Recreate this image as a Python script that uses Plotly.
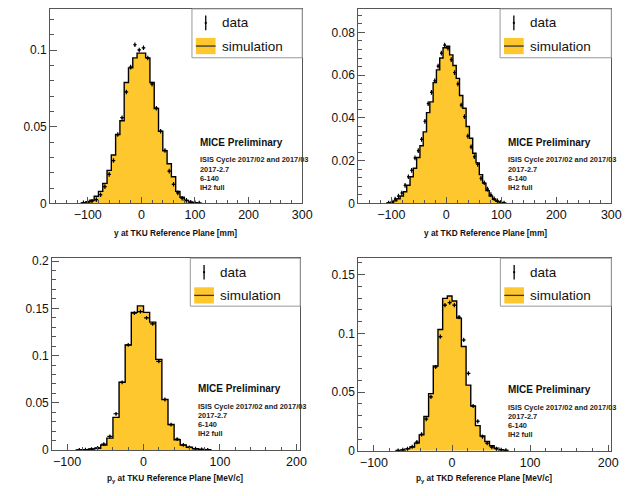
import plotly.graph_objects as go

W, H = 641, 496

# ---------------- data (normalised histograms) ----------------
# Panel 1: y at TKU reference plane [mm], bin width 8
P1_CENTERS = [-108, -100, -92, -84, -76, -68, -60, -52, -44, -36, -28, -20, -12, -4,
              4, 12, 20, 28, 36, 44, 52, 60, 68, 76, 84, 92, 100, 108]
P1_SIM = [0.0004, 0.0010, 0.0021, 0.0047, 0.0079, 0.0131, 0.0216, 0.0316, 0.0450, 0.0540,
          0.0790, 0.0885, 0.0950, 0.0981, 0.0981, 0.0950, 0.0790, 0.0620, 0.0471, 0.0344,
          0.0259, 0.0174, 0.0079, 0.0041, 0.0020, 0.0010, 0.0005, 0.0002]
P1_DATA = [0.0005, 0.0010, 0.0015, 0.0025, 0.0057, 0.0110, 0.0190, 0.0280, 0.0450, 0.0560,
           0.0728, 0.0890, 0.1036, 0.1002, 0.1016, 0.0949, 0.0779, 0.0622, 0.0471, 0.0346,
           0.0211, 0.0125, 0.0069, 0.0034, 0.0020, 0.0008, 0.0004, 0.0002]

# Panel 2: y at TKD reference plane [mm], bin width 6
P2_CENTERS = [-105, -99, -93, -87, -81, -75, -69, -63, -57, -51, -45, -39, -33, -27, -21, -15,
              -9, -3, 3, 9, 15, 21, 27, 33, 39, 45, 51, 57, 63, 69, 75, 81, 87, 93, 99, 105]
P2_SIM = [0.0002, 0.0005, 0.0012, 0.0022, 0.0035, 0.0055, 0.0085, 0.0125, 0.0165, 0.0215,
          0.0270, 0.0335, 0.0425, 0.0475, 0.0565, 0.0625, 0.0680, 0.0728, 0.0735, 0.0695,
          0.0645, 0.0585, 0.0505, 0.0445, 0.0360, 0.0305, 0.0235, 0.0190, 0.0135, 0.0095,
          0.0060, 0.0035, 0.0020, 0.0010, 0.0005, 0.0002]
P2_DATA = [0.0002, 0.0008, 0.0021, 0.0034, 0.0049, 0.0085, 0.0125, 0.0155, 0.0213, 0.0247,
           0.0300, 0.0384, 0.0467, 0.0520, 0.0574, 0.0642, 0.0703, 0.0741, 0.0726, 0.0673,
           0.0612, 0.0559, 0.0460, 0.0406, 0.0315, 0.0265, 0.0219, 0.0183, 0.0117, 0.0097,
           0.0067, 0.0041, 0.0022, 0.0012, 0.0005, 0.0002]

# Panel 3: p_y at TKU reference plane [MeV/c], bin width 8
P3_CENTERS = [-84, -76, -68, -60, -52, -44, -36, -28, -20, -12, -4,
              4, 12, 20, 28, 36, 44, 52, 60, 68, 76, 84]
P3_SIM = [0.0003, 0.0006, 0.0012, 0.0021, 0.0055, 0.0127, 0.0347, 0.0718, 0.1113, 0.1457,
          0.1526, 0.1457, 0.1354, 0.0960, 0.0536, 0.0271, 0.0110, 0.0055, 0.0031, 0.0015,
          0.0008, 0.0004]
P3_DATA = [0.0003, 0.0005, 0.0012, 0.0025, 0.0064, 0.0145, 0.0385, 0.0718, 0.1113, 0.1450,
           0.1465, 0.1400, 0.1336, 0.0940, 0.0536, 0.0271, 0.0117, 0.0055, 0.0030, 0.0015,
           0.0008, 0.0004]

# Panel 4: p_y at TKD reference plane [MeV/c], bin width 6
P4_CENTERS = [-69, -63, -57, -51, -45, -39, -33, -27, -21, -15, -9, -3,
              3, 9, 15, 21, 27, 33, 39, 45, 51, 57, 63, 69]
P4_SIM = [0.0003, 0.0007, 0.0019, 0.0033, 0.0066, 0.0136, 0.0293, 0.0487, 0.0723, 0.1033,
          0.1298, 0.1318, 0.1276, 0.1130, 0.0889, 0.0560, 0.0382, 0.0215, 0.0127, 0.0080,
          0.0044, 0.0022, 0.0010, 0.0004]
P4_DATA = [0.0003, 0.0008, 0.0017, 0.0035, 0.0075, 0.0141, 0.0271, 0.0460, 0.0714, 0.0972,
           0.1240, 0.1262, 0.1240, 0.1138, 0.0944, 0.0659, 0.0382, 0.0252, 0.0122, 0.0065,
           0.0032, 0.0017, 0.0008, 0.0004]

X_TITLES = ["y at TKU Reference Plane [mm]",
            "y at TKD Reference Plane [mm]",
            "p<sub>y</sub> at TKU Reference Plane [MeV/c]",
            "p<sub>y</sub> at TKD Reference Plane [MeV/c]"]
INFO_LINES = ["ISIS Cycle 2017/02 and 2017/03", "2017-2.7", "6-140", "IH2 full"]
LEGEND_LABELS = ["data", "simulation"]

# ---------------- style / layout ----------------
YELLOW = "#FFC72E"
FONT = "Liberation Sans, Arial, Helvetica, sans-serif"
AXC = "#555555"


def fx(x):
    return x / W


def fy(y):
    return 1 - y / H


panels = [
    dict(c=P1_CENTERS, sim=P1_SIM, data=P1_DATA, bw=8, err=0.0015,
         box=(51, 5, 307, 204), xr=[-170, 300], yr=[0, 0.127], ydt=0.05, ymin=0.01,
         title=X_TITLES[0], tpos=(178, 234.5), leg=(195, 5, 307, 55), txt=(201, 141.7)),
    dict(c=P2_CENTERS, sim=P2_SIM, data=P2_DATA, bw=6, err=0.0011,
         box=(364, 5, 621, 204), xr=[-160, 300], yr=[0, 0.091], ydt=0.02, ymin=0.004,
         title=X_TITLES[1], tpos=(493, 234.5), leg=(508, 5, 621, 55), txt=(514.3, 141.7)),
    dict(c=P3_CENTERS, sim=P3_SIM, data=P3_DATA, bw=8, err=0.002,
         box=(53, 260, 305, 456.3), xr=[-119.5, 205], yr=[0, 0.203], ydt=0.05, ymin=0.01,
         title=X_TITLES[2], tpos=(178, 485.5), leg=(193.3, 260, 305, 309), txt=(199.3, 393.7)),
    dict(c=P4_CENTERS, sim=P4_SIM, data=P4_DATA, bw=6, err=0.0018,
         box=(364, 260, 621, 457), xr=[-120, 204], yr=[0, 0.164], ydt=0.05, ymin=0.01,
         title=X_TITLES[3], tpos=(492, 485.5), leg=(508.3, 260, 621, 309), txt=(514.3, 394.7)),
]

fig = go.Figure()
layout = dict(width=W, height=H, margin=dict(l=0, r=0, t=0, b=0),
              paper_bgcolor="white", plot_bgcolor="white", showlegend=False,
              font=dict(family=FONT, color="#111111"))
shapes = []
annotations = []

for i, p in enumerate(panels, start=1):
    xa, ya = f"x{i}", f"y{i}"
    bw = p["bw"]
    edges = [c - bw / 2 for c in p["c"]] + [p["c"][-1] + bw / 2]
    xs = [edges[0]] + edges[:-1] + [edges[-1]]
    ys = [0] + list(p["sim"]) + [0]
    fig.add_trace(go.Scatter(x=xs, y=ys, mode="lines", xaxis=xa, yaxis=ya,
                             line=dict(shape="hv", color="black", width=1.4),
                             fill="tozeroy", fillcolor=YELLOW, hoverinfo="skip"))
    fig.add_trace(go.Scatter(x=p["c"], y=p["data"], mode="markers", xaxis=xa, yaxis=ya,
                             marker=dict(size=2, color="black"),
                             error_x=dict(type="constant", value=bw / 2 * 0.85, width=0,
                                          thickness=1.2, color="black"),
                             error_y=dict(type="constant", value=p["err"], width=0,
                                          thickness=1.2, color="black")))
    x0, y0, x1, y1 = p["box"]
    sfx = "" if i == 1 else str(i)
    layout["xaxis" + sfx] = dict(
        domain=[fx(x0), fx(x1)], range=p["xr"], anchor=ya, showgrid=False, zeroline=False,
        showline=True, linecolor=AXC, linewidth=1, mirror=True,
        ticks="inside", ticklen=6, tickwidth=1, tickcolor=AXC, tick0=0, dtick=100,
        minor=dict(ticks="inside", ticklen=3, dtick=20, tickcolor=AXC, showgrid=False),
        tickfont=dict(size=12.5, family=FONT, color="#111111"))
    layout["yaxis" + sfx] = dict(
        domain=[fy(y1), fy(y0)], range=p["yr"], anchor=xa, showgrid=False, zeroline=False,
        showline=True, linecolor=AXC, linewidth=1, mirror=True,
        ticks="inside", ticklen=7, tickwidth=1, tickcolor=AXC, tick0=0, dtick=p["ydt"],
        minor=dict(ticks="inside", ticklen=3.5, dtick=p["ymin"], tickcolor=AXC, showgrid=False),
        tickfont=dict(size=12, family=FONT, color="#111111"))

    # x axis title
    tx, ty = p["tpos"]
    annotations.append(dict(xref="paper", yref="paper", x=fx(tx), y=fy(ty), text="<b>%s</b>" % p["title"],
                            showarrow=False, xanchor="center", yanchor="middle",
                            font=dict(size=8.3, family=FONT, color="#111111")))
    # MICE text block
    mx, my = p["txt"]
    annotations.append(dict(xref="paper", yref="paper", x=fx(mx), y=fy(my), text="<b>MICE Preliminary</b>",
                            showarrow=False, xanchor="left", yanchor="middle",
                            font=dict(size=10, family=FONT, color="#111111")))
    for k, (line, dy) in enumerate(zip(INFO_LINES, [17.8, 27.4, 36.6, 45.8])):
        annotations.append(dict(xref="paper", yref="paper", x=fx(mx), y=fy(my + dy),
                                text="<b>%s</b>" % line, showarrow=False,
                                xanchor="left", yanchor="middle",
                                font=dict(size=7.4, family=FONT, color="#222222")))
    # legend box
    lx0, ly0, lx1, ly1 = p["leg"]
    shapes.append(dict(type="rect", xref="paper", yref="paper", x0=fx(lx0), x1=fx(lx1),
                       y0=fy(ly1), y1=fy(ly0), line=dict(color="#999999", width=1),
                       fillcolor="white", layer="above"))
    r1 = ly0 + 14.3
    r2 = ly0 + 38
    # data symbol
    shapes.append(dict(type="line", xref="paper", yref="paper", x0=fx(lx0 + 14), x1=fx(lx0 + 14),
                       y0=fy(r1 - 7.5), y1=fy(r1 + 7.5), line=dict(color="black", width=1.3),
                       layer="above"))
    shapes.append(dict(type="rect", xref="paper", yref="paper", x0=fx(lx0 + 13), x1=fx(lx0 + 15),
                       y0=fy(r1 + 1), y1=fy(r1 - 1), line=dict(width=0), fillcolor="black",
                       layer="above"))
    # simulation symbol
    shapes.append(dict(type="rect", xref="paper", yref="paper", x0=fx(lx0 + 4), x1=fx(lx0 + 24),
                       y0=fy(r2 + 8.3), y1=fy(r2 - 8.3), line=dict(width=0), fillcolor=YELLOW,
                       layer="above"))
    shapes.append(dict(type="line", xref="paper", yref="paper", x0=fx(lx0 + 4), x1=fx(lx0 + 24),
                       y0=fy(r2), y1=fy(r2), line=dict(color="#333333", width=1.3), layer="above"))
    for lab, ry in zip(LEGEND_LABELS, [r1, r2]):
        annotations.append(dict(xref="paper", yref="paper", x=fx(lx0 + 28), y=fy(ry), text=lab,
                                showarrow=False, xanchor="left", yanchor="middle",
                                font=dict(size=13.5, family=FONT, color="#111111")))

layout["shapes"] = shapes
layout["annotations"] = annotations
fig.update_layout(**layout)
fig.write_html("out.html")
